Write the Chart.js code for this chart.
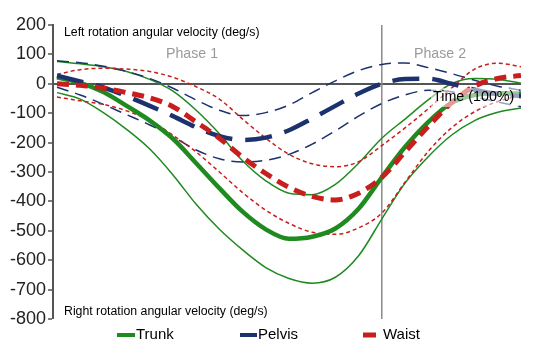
<!DOCTYPE html>
<html><head><meta charset="utf-8">
<script src="https://cdn.jsdelivr.net/npm/chart.js@4"></script>
<style>html,body{margin:0;padding:0;background:#fff;}#wrap{width:537px;height:356px;}</style>
</head><body><div id="wrap"><canvas id="c" width="537" height="356"></canvas></div>
<script>
// Time (% of movement)
const timePct = [0,5,10,15,20,25,30,35,40,45,50,55,60,65,70,75,80,85,90,95,100];
const phaseBoundary = 70;
const yTicks = [200,100,0,-100,-200,-300,-400,-500,-600,-700,-800];

// Angular velocity (deg/s)
const trunkMean  = [22,3,-28,-75,-125,-187,-270,-355,-435,-495,-527,-520,-492,-425,-318,-215,-130,-65,-38,-32,-33];
const trunkUpper = [76,68,58,42,15,-25,-90,-170,-262,-330,-372,-377,-342,-270,-185,-120,-55,0,18,15,2];
const trunkLower = [-30,-52,-98,-155,-222,-310,-410,-495,-565,-625,-662,-678,-658,-585,-460,-338,-248,-175,-125,-97,-82];

const pelvisMean  = [28,8,-12,-42,-75,-110,-148,-178,-191,-183,-158,-118,-75,-33,0,16,17,0,-20,-35,-42];
const pelvisUpper = [78,72,60,42,18,-15,-55,-90,-108,-98,-72,-30,10,45,66,71,55,35,12,-8,-22];
const pelvisLower = [-12,-38,-70,-105,-140,-180,-225,-255,-266,-260,-240,-205,-160,-110,-67,-38,-22,-27,-45,-62,-78];

const waistMean  = [0,-5,-15,-30,-48,-78,-130,-185,-250,-305,-352,-383,-395,-372,-318,-232,-145,-65,-8,18,28];
const waistUpper = [32,48,53,50,42,22,-10,-52,-120,-185,-240,-272,-282,-265,-210,-150,-85,-15,50,70,58];
const waistLower = [-45,-58,-70,-92,-125,-175,-232,-300,-370,-430,-475,-505,-512,-490,-440,-335,-230,-150,-95,-60,-40];

const seriesNames = ['Trunk','Pelvis','Waist'];

const GREEN = '#1f8a1f', NAVY = '#1c326e', RED = '#c81e1e';
const FONT = 'Arial, "Liberation Sans", sans-serif';

function pts(vals){ return vals.map((v,i)=>({x:timePct[i], y:v})); }
function ds(label, vals, color, width, dash, order){
  return {label, data: pts(vals), borderColor: color, backgroundColor: color,
    borderWidth: width, borderDash: dash, pointRadius: 0,
    cubicInterpolationMode: 'monotone',
    fill: false, order, borderCapStyle: 'butt'};
}

const datasets = [
  ds(seriesNames[2], waistMean, RED, 5, [12,7], 0),
  ds(seriesNames[1], pelvisMean, NAVY, 4.5, [27,13], 1),
  ds(seriesNames[0], trunkMean, GREEN, 4.5, [], 2),
  ds('Waist +SD', waistUpper, RED, 1.5, [4,3], 3),
  ds('Waist -SD', waistLower, RED, 1.5, [4,3], 3),
  ds('Pelvis +SD', pelvisUpper, NAVY, 1.5, [12,7], 4),
  ds('Pelvis -SD', pelvisLower, NAVY, 1.5, [12,7], 4),
  ds('Trunk +SD', trunkUpper, GREEN, 1.5, [], 5),
  ds('Trunk -SD', trunkLower, GREEN, 1.5, [], 5),
  {label:'phase', data:[{x:phaseBoundary,y:yTicks[0]},{x:phaseBoundary,y:yTicks[yTicks.length-1]}],
   borderColor:'#8a8a8a', borderWidth:1.5, pointRadius:0, order:9, tension:0}
];

const textPlugin = {
  id:'texts',
  afterDatasetsDraw(chart){
    const ctx = chart.ctx;
    ctx.save();
    ctx.textBaseline = 'middle';
    ctx.fillStyle = '#000';
    ctx.font = '12.3px ' + FONT;
    ctx.fillText('Left rotation angular velocity (deg/s)', 64, 33);
    ctx.fillText('Right rotation angular velocity (deg/s)', 64, 312);
    ctx.fillStyle = '#9a9a9a';
    ctx.font = '14.2px ' + FONT;
    ctx.fillText('Phase 1', 166, 54);
    ctx.fillText('Phase 2', 414, 54);
    ctx.fillStyle = 'rgba(255,255,255,0.55)';
    ctx.fillRect(431, 88, 88, 19);
    ctx.fillStyle = '#000';
    ctx.font = '14.3px ' + FONT;
    ctx.fillText('Time (100%)', 433, 97.5);
    // legend
    const items = [
      {name: seriesNames[0], color: GREEN, x0:117, x1:135, w:4, tx:136},
      {name: seriesNames[1], color: NAVY, x0:240, x1:257, w:4, tx:258},
      {name: seriesNames[2], color: RED, x0:363, x1:376, w:5, tx:383}
    ];
    ctx.font = '15px ' + FONT;
    items.forEach(it=>{
      ctx.strokeStyle = it.color; ctx.lineWidth = it.w; ctx.lineCap='butt';
      ctx.beginPath(); ctx.moveTo(it.x0, 335); ctx.lineTo(it.x1, 335); ctx.stroke();
      ctx.fillStyle = '#000';
      ctx.fillText(it.name, it.tx, 335);
    });
    ctx.restore();
  }
};

new Chart(document.getElementById('c'), {
  type:'line',
  data:{datasets},
  options:{
    responsive:false, animation:false, devicePixelRatio:1,
    layout:{padding:{left:0, top:25, right:16, bottom:37}},
    plugins:{legend:{display:false}, tooltip:{enabled:false}},
    scales:{
      x:{type:'linear', min:-0.86, max:100, display:false},
      y:{type:'linear', min:yTicks[yTicks.length-1], max:yTicks[0],
        afterFit(s){ s.width = 53; },
        afterBuildTicks(s){ s.ticks = yTicks.map(v=>({value:v})); },
        ticks:{font:{family:FONT, size:18}, color:'#222', padding:2},
        grid:{drawOnChartArea:true, drawTicks:true, tickLength:5, tickColor:'#555', tickWidth:1.5,
          color: c => (c.tick && c.tick.value===0) ? '#555' : 'rgba(0,0,0,0)',
          lineWidth: c => (c.tick && c.tick.value===0) ? 2 : 0},
        border:{display:true, color:'#555', width:2}
      }
    }
  },
  plugins:[textPlugin]
});
</script></body></html>
